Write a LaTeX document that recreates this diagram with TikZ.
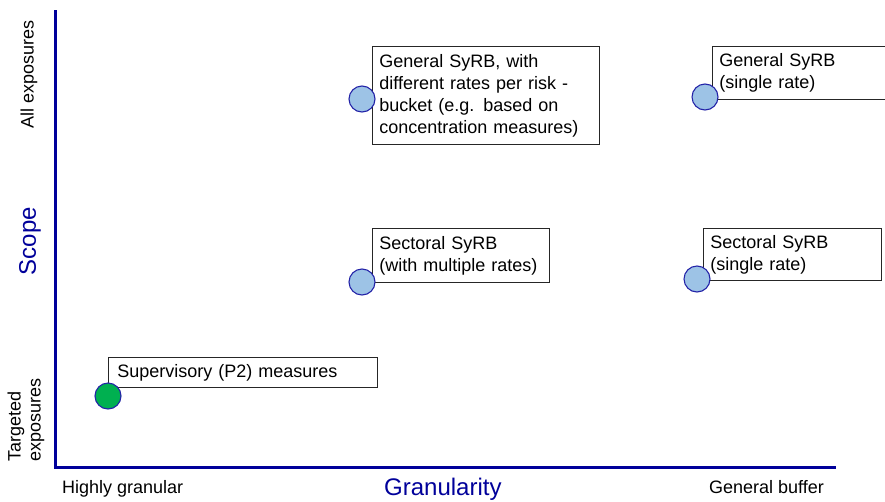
\documentclass[tikz,border=0pt]{standalone}
\usepackage{fontspec}
\setmainfont{Liberation Sans}
\definecolor{axisblue}{HTML}{00009A}
\definecolor{dotedge}{HTML}{2424A8}
\definecolor{dotblue}{HTML}{9DC3E6}
\definecolor{dotgreen}{HTML}{00B050}
\tikzset{
  box/.style={draw=black!85, line width=0.8pt, fill=white, anchor=north west, align=left,
    inner xsep=7pt, inner ysep=0pt, font=\fontsize{18}{22}\selectfont},
  dotb/.style={circle, draw=dotedge, line width=1.1pt, fill=dotblue, minimum size=26pt, inner sep=0pt},
  dotg/.style={dotb, fill=dotgreen},
  lab/.style={font=\fontsize{18}{20}\selectfont, inner sep=0pt},
  axtitle/.style={text=axisblue, inner sep=0pt, font=\fontsize{24}{28}\selectfont},
  axis/.style={draw=axisblue, line width=3pt},
}
\begin{document}
\begin{tikzpicture}[x=1pt,y=-1pt]
\useasboundingbox (0,0) rectangle (885,501);
% axes
\coordinate (ytop) at (55,10);
\coordinate (origin) at (55,467);
\coordinate (xend) at (836,467);
\draw[axis] (ytop) -- (origin) -- (xend);
% boxes
\node[box, text width=213pt, minimum height=98pt] (b1) at (372,46)
  {General SyRB, with\\different rates per risk -\\bucket (e.g. based on\\concentration measures)};
\node[box, text width=164pt, minimum height=53pt] (b2) at (712,46)
  {General SyRB\\(single rate)};
\node[box, text width=163pt, minimum height=54pt] (b3) at (372,228)
  {Sectoral SyRB\\(with multiple rates)};
\node[box, text width=164pt, minimum height=52pt] (b4) at (703,228)
  {Sectoral SyRB\\(single rate)};
\node[box, inner xsep=9pt, text width=251pt, minimum height=30pt] (b5) at (108,357)
  {Supervisory (P2) measures};
% dots
\node[dotb] (c1) at (362,99) {};
\node[dotb] (c2) at (705,97) {};
\node[dotb] (c3) at (362,282) {};
\node[dotb] (c4) at (697,279) {};
\node[dotg] (c5) at (108,396) {};
% axis labels
\node[lab, rotate=90] (allexp) at (29,74) {All exposures};
\node[axtitle, rotate=90] (scope) at (30,241) {Scope};
\node[lab, rotate=90, anchor=west, align=left] (targ) at (26,462) {Targeted\\exposures};
\node[lab, anchor=base west] (hg) at (62,493) {Highly granular};
\node[lab, anchor=base west] (gb) at (709,493) {General buffer};
\node[axtitle, anchor=base west] (gran) at (384,495) {Granularity};
\end{tikzpicture}
\end{document}
